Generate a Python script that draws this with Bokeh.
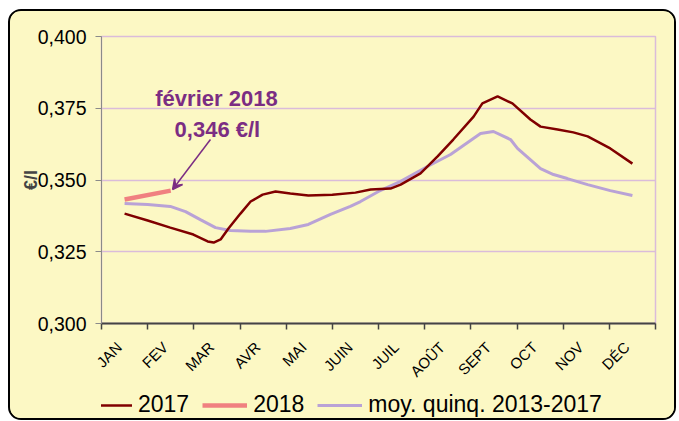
from bokeh.plotting import figure
from bokeh.layouts import column
from bokeh.models import (Range1d, FixedTicker, Legend, LegendItem, Arrow, VeeHead)
from bokeh.core.properties import value
from bokeh.embed import file_html
from bokeh.resources import INLINE

# ---- data (x in month units: JAN centre = 0.5) ----
months = ["JAN", "FEV", "MAR", "AVR", "MAI", "JUIN", "JUIL", "AOÛT", "SEPT", "OCT", "NOV", "DÉC"]

x_2017 = [0.50, 1.00, 1.49, 1.99, 2.30, 2.43, 2.58, 2.75, 3.01, 3.23, 3.49, 3.77, 4.09, 4.48,
          5.00, 5.50, 5.83, 6.26, 6.48, 6.91, 7.28, 7.62, 8.06, 8.25, 8.58, 8.90, 9.29, 9.51,
          9.88, 10.22, 10.53, 11.02, 11.50]
y_2017 = [0.3383, 0.3359, 0.3334, 0.3310, 0.3286, 0.3282, 0.3293, 0.3331, 0.3383, 0.3425,
          0.3449, 0.3460, 0.3453, 0.3446, 0.3449, 0.3456, 0.3467, 0.3470, 0.3484, 0.3523,
          0.3582, 0.3641, 0.3721, 0.3767, 0.3791, 0.3767, 0.3711, 0.3686, 0.3676, 0.3666,
          0.3652, 0.3610, 0.3557]

x_2018 = [0.5, 1.5]
y_2018 = [0.3432, 0.3463]

x_moy = [0.50, 1.00, 1.49, 1.82, 2.14, 2.47, 2.79, 3.23, 3.55, 4.09, 4.48, 4.96, 5.39, 5.61,
         6.00, 6.48, 7.06, 7.56, 8.21, 8.49, 8.86, 9.01, 9.51, 9.79, 10.09, 10.53, 11.02, 11.50]
y_moy = [0.3418, 0.3415, 0.3408, 0.3390, 0.3362, 0.3334, 0.3324, 0.3321, 0.3321, 0.3331,
         0.3345, 0.3380, 0.3408, 0.3425, 0.3460, 0.3495, 0.3547, 0.3589, 0.3662, 0.3669,
         0.3641, 0.3610, 0.3540, 0.3519, 0.3505, 0.3484, 0.3463, 0.3446]

y_ticks = [0.300, 0.325, 0.350, 0.375, 0.400]
y_tick_labels = ["0,300", "0,325", "0,350", "0,375", "0,400"]

series_labels = ["2017", "2018", "moy. quinq. 2013-2017"]
annot_title = "février 2018"
annot_value = "0,346 €/l"

BG = "#FCF8C4"
GRID = "#DABCDA"
C2017 = "#800000"
C2018 = "#F08080"
CMOY = "#B9A2D6"
CANN = "#7B2D83"
FONT = "Liberation Sans"

p = figure(frame_width=554, frame_height=287,
           min_border_left=91, min_border_right=19, min_border_top=25, min_border_bottom=62,
           x_range=Range1d(0, 12), y_range=Range1d(0.300, 0.400),
           output_backend="svg", toolbar_location=None)
p.background_fill_color = BG
p.border_fill_color = BG
p.outline_line_color = GRID
p.outline_line_width = 1.5

# grid
p.xgrid.visible = False
p.ygrid.ticker = FixedTicker(ticks=y_ticks)
p.ygrid.grid_line_color = GRID
p.ygrid.grid_line_width = 1.5

# y axis
p.yaxis.ticker = FixedTicker(ticks=y_ticks)
p.yaxis.major_label_overrides = {t: l for t, l in zip(y_ticks, y_tick_labels)}
p.yaxis.major_label_text_font = FONT
p.yaxis.major_label_text_font_size = "19.5px"
p.yaxis.major_label_text_color = "black"
p.yaxis.major_label_standoff = 9
p.yaxis.axis_line_color = "#8A8A8A"
p.yaxis.major_tick_line_color = "#8A8A8A"
p.yaxis.major_tick_in = 0
p.yaxis.major_tick_out = 6
p.yaxis.minor_tick_line_color = None
p.yaxis.axis_label = "€/l"
p.yaxis.axis_label_text_font = FONT
p.yaxis.axis_label_text_font_style = "bold"
p.yaxis.axis_label_text_font_size = "18px"
p.yaxis.axis_label_standoff = -6

# x axis: labels near month centres, tick marks at month boundaries (minor ticks)
label_pos = [i + 0.38 for i in range(len(months))]
bounds = [float(i) for i in range(len(months) + 1)]
p.xaxis.ticker = FixedTicker(ticks=label_pos, minor_ticks=bounds)
p.xaxis.major_label_overrides = {c: m for c, m in zip(label_pos, months)}
p.xaxis.major_label_orientation = 0.785398
p.xaxis.major_label_text_font = FONT
p.xaxis.major_label_text_font_size = "15px"
p.xaxis.major_label_text_color = "black"
p.xaxis.major_label_standoff = 15
p.xaxis.major_tick_line_color = None
p.xaxis.minor_tick_line_color = "#444444"
p.xaxis.minor_tick_line_width = 1.5
p.xaxis.minor_tick_in = 0
p.xaxis.minor_tick_out = 6
p.xaxis.axis_line_color = "#444444"
p.xaxis.axis_line_width = 2

p.line(x_moy, y_moy, line_color=CMOY, line_width=3)
p.line(x_2017, y_2017, line_color=C2017, line_width=2.5)
p.line(x_2018, y_2018, line_color=C2018, line_width=4.5)

# annotation
p.text(x=[2.49], y=[0.3784], text=[annot_title], text_font=value(FONT), text_font_style="bold",
       text_font_size="22px", text_color=CANN, text_align="center", text_baseline="alphabetic")
p.text(x=[2.51], y=[0.3677], text=[annot_value], text_font=value(FONT), text_font_style="bold",
       text_font_size="22px", text_color=CANN, text_align="center", text_baseline="alphabetic")
p.add_layout(Arrow(end=VeeHead(size=10, line_color=CANN, fill_color=CANN, line_width=1.5),
                   x_start=2.36, y_start=0.3641, x_end=x_2018[-1] + 0.04, y_end=y_2018[-1] + 0.0004,
                   line_color=CANN, line_width=1.5))

# ---- legend strip (separate small figure below the chart; its lines fall outside its view) ----
lg = figure(width=664, height=30, min_border=0, x_axis_type=None, y_axis_type=None,
            x_range=Range1d(-3, -2), y_range=Range1d(0, 1),
            output_backend="svg", toolbar_location=None)
lg.background_fill_color = BG
lg.border_fill_color = BG
lg.outline_line_color = None
lg.grid.visible = False
l1 = lg.line(x_2017, y_2017, line_color=C2017, line_width=2.5)
l2 = lg.line(x_2018, y_2018, line_color=C2018, line_width=4.5)
l3 = lg.line(x_moy, y_moy, line_color=CMOY, line_width=3)
legend = Legend(items=[LegendItem(label=series_labels[0], renderers=[l1]),
                       LegendItem(label=series_labels[1], renderers=[l2]),
                       LegendItem(label=series_labels[2], renderers=[l3])],
                orientation="horizontal", location=(-14, 0),
                label_text_font=FONT, label_text_font_size="23px", label_text_color="black",
                glyph_width=45, glyph_height=26, label_height=26, label_standoff=6, spacing=13,
                padding=0, margin=0, border_line_alpha=0, background_fill_alpha=0)
lg.add_layout(legend)

layout = column(p, lg, spacing=0)
layout.styles = {"border": "2px solid black", "border-radius": "13px", "overflow": "hidden",
                 "margin-left": "8px", "margin-top": "9px", "background-color": BG}

open("out.html", "w").write(file_html(layout, INLINE))
